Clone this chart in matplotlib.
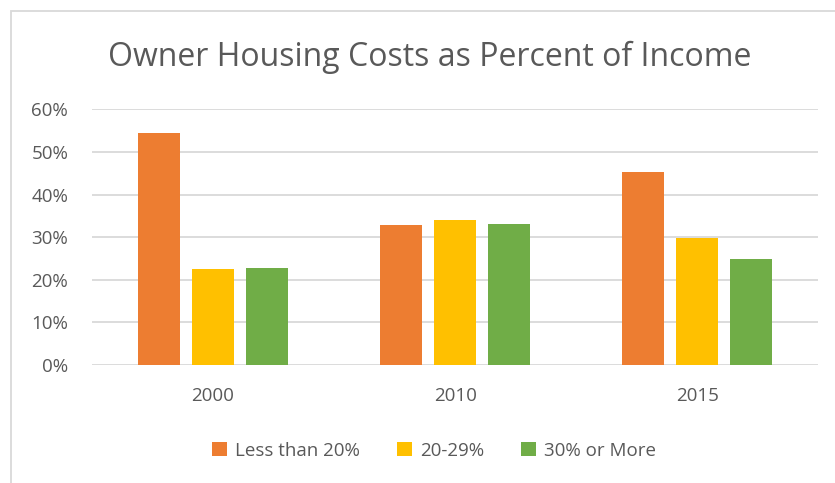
import matplotlib
matplotlib.use("Agg")
import matplotlib.pyplot as plt
import numpy as np
from matplotlib.patches import Rectangle
from matplotlib.ticker import PercentFormatter

years = ["2000", "2010", "2015"]
series_names = ["Less than 20%", "20-29%", "30% or More"]
less_than_20 = [0.544, 0.328, 0.452]
pct_20_29 = [0.226, 0.340, 0.298]
pct_30_more = [0.228, 0.330, 0.248]
colors = ["#ED7D31", "#FFC000", "#70AD47"]

plt.rcParams["font.family"] = ["Open Sans", "DejaVu Sans"]
text_color = "#595959"

fig = plt.figure(figsize=(8.35, 4.83), dpi=100)
ax = fig.add_axes([0.110, 0.2443, 0.870, 0.5294])

x = np.arange(len(years))
width = 0.1736
step = 0.222
for i, (vals, name) in enumerate(zip([less_than_20, pct_20_29, pct_30_more], series_names)):
    ax.bar(x + (i - 1) * step, vals, width, color=colors[i], label=name, zorder=3)

ax.set_xlim(-0.5, 2.5)
ax.set_ylim(0, 0.6)
ax.set_yticks(np.arange(0, 0.61, 0.1))
ax.yaxis.set_major_formatter(PercentFormatter(1.0, decimals=0))
ax.set_xticks(x)
ax.set_xticklabels(years)
ax.grid(axis="y", color="#D9D9D9", linewidth=1.3, zorder=0)
for s in ax.spines.values():
    s.set_visible(False)
ax.tick_params(axis="both", length=0, labelsize=13.5, labelcolor=text_color)
ax.tick_params(axis="x", pad=16)
ax.tick_params(axis="y", pad=17)

fig.text(0.515, 0.882, "Owner Housing Costs as Percent of Income", ha="center", va="center",
         fontsize=23, color=text_color)

ax.legend(loc="center", bbox_to_anchor=(0.471, -0.335), ncol=3, frameon=False,
          fontsize=13.5, labelcolor=text_color, handlelength=0.8, handleheight=0.8,
          handletextpad=0.4, columnspacing=2.0)

# chart border
fig.patches.append(Rectangle((11 / 835, -0.1), 1.2, 1 - 11 / 483 + 0.1,
                             transform=fig.transFigure, fill=False,
                             edgecolor="#D9D9D9", linewidth=1.3))

fig.savefig("out.png", dpi=100)
